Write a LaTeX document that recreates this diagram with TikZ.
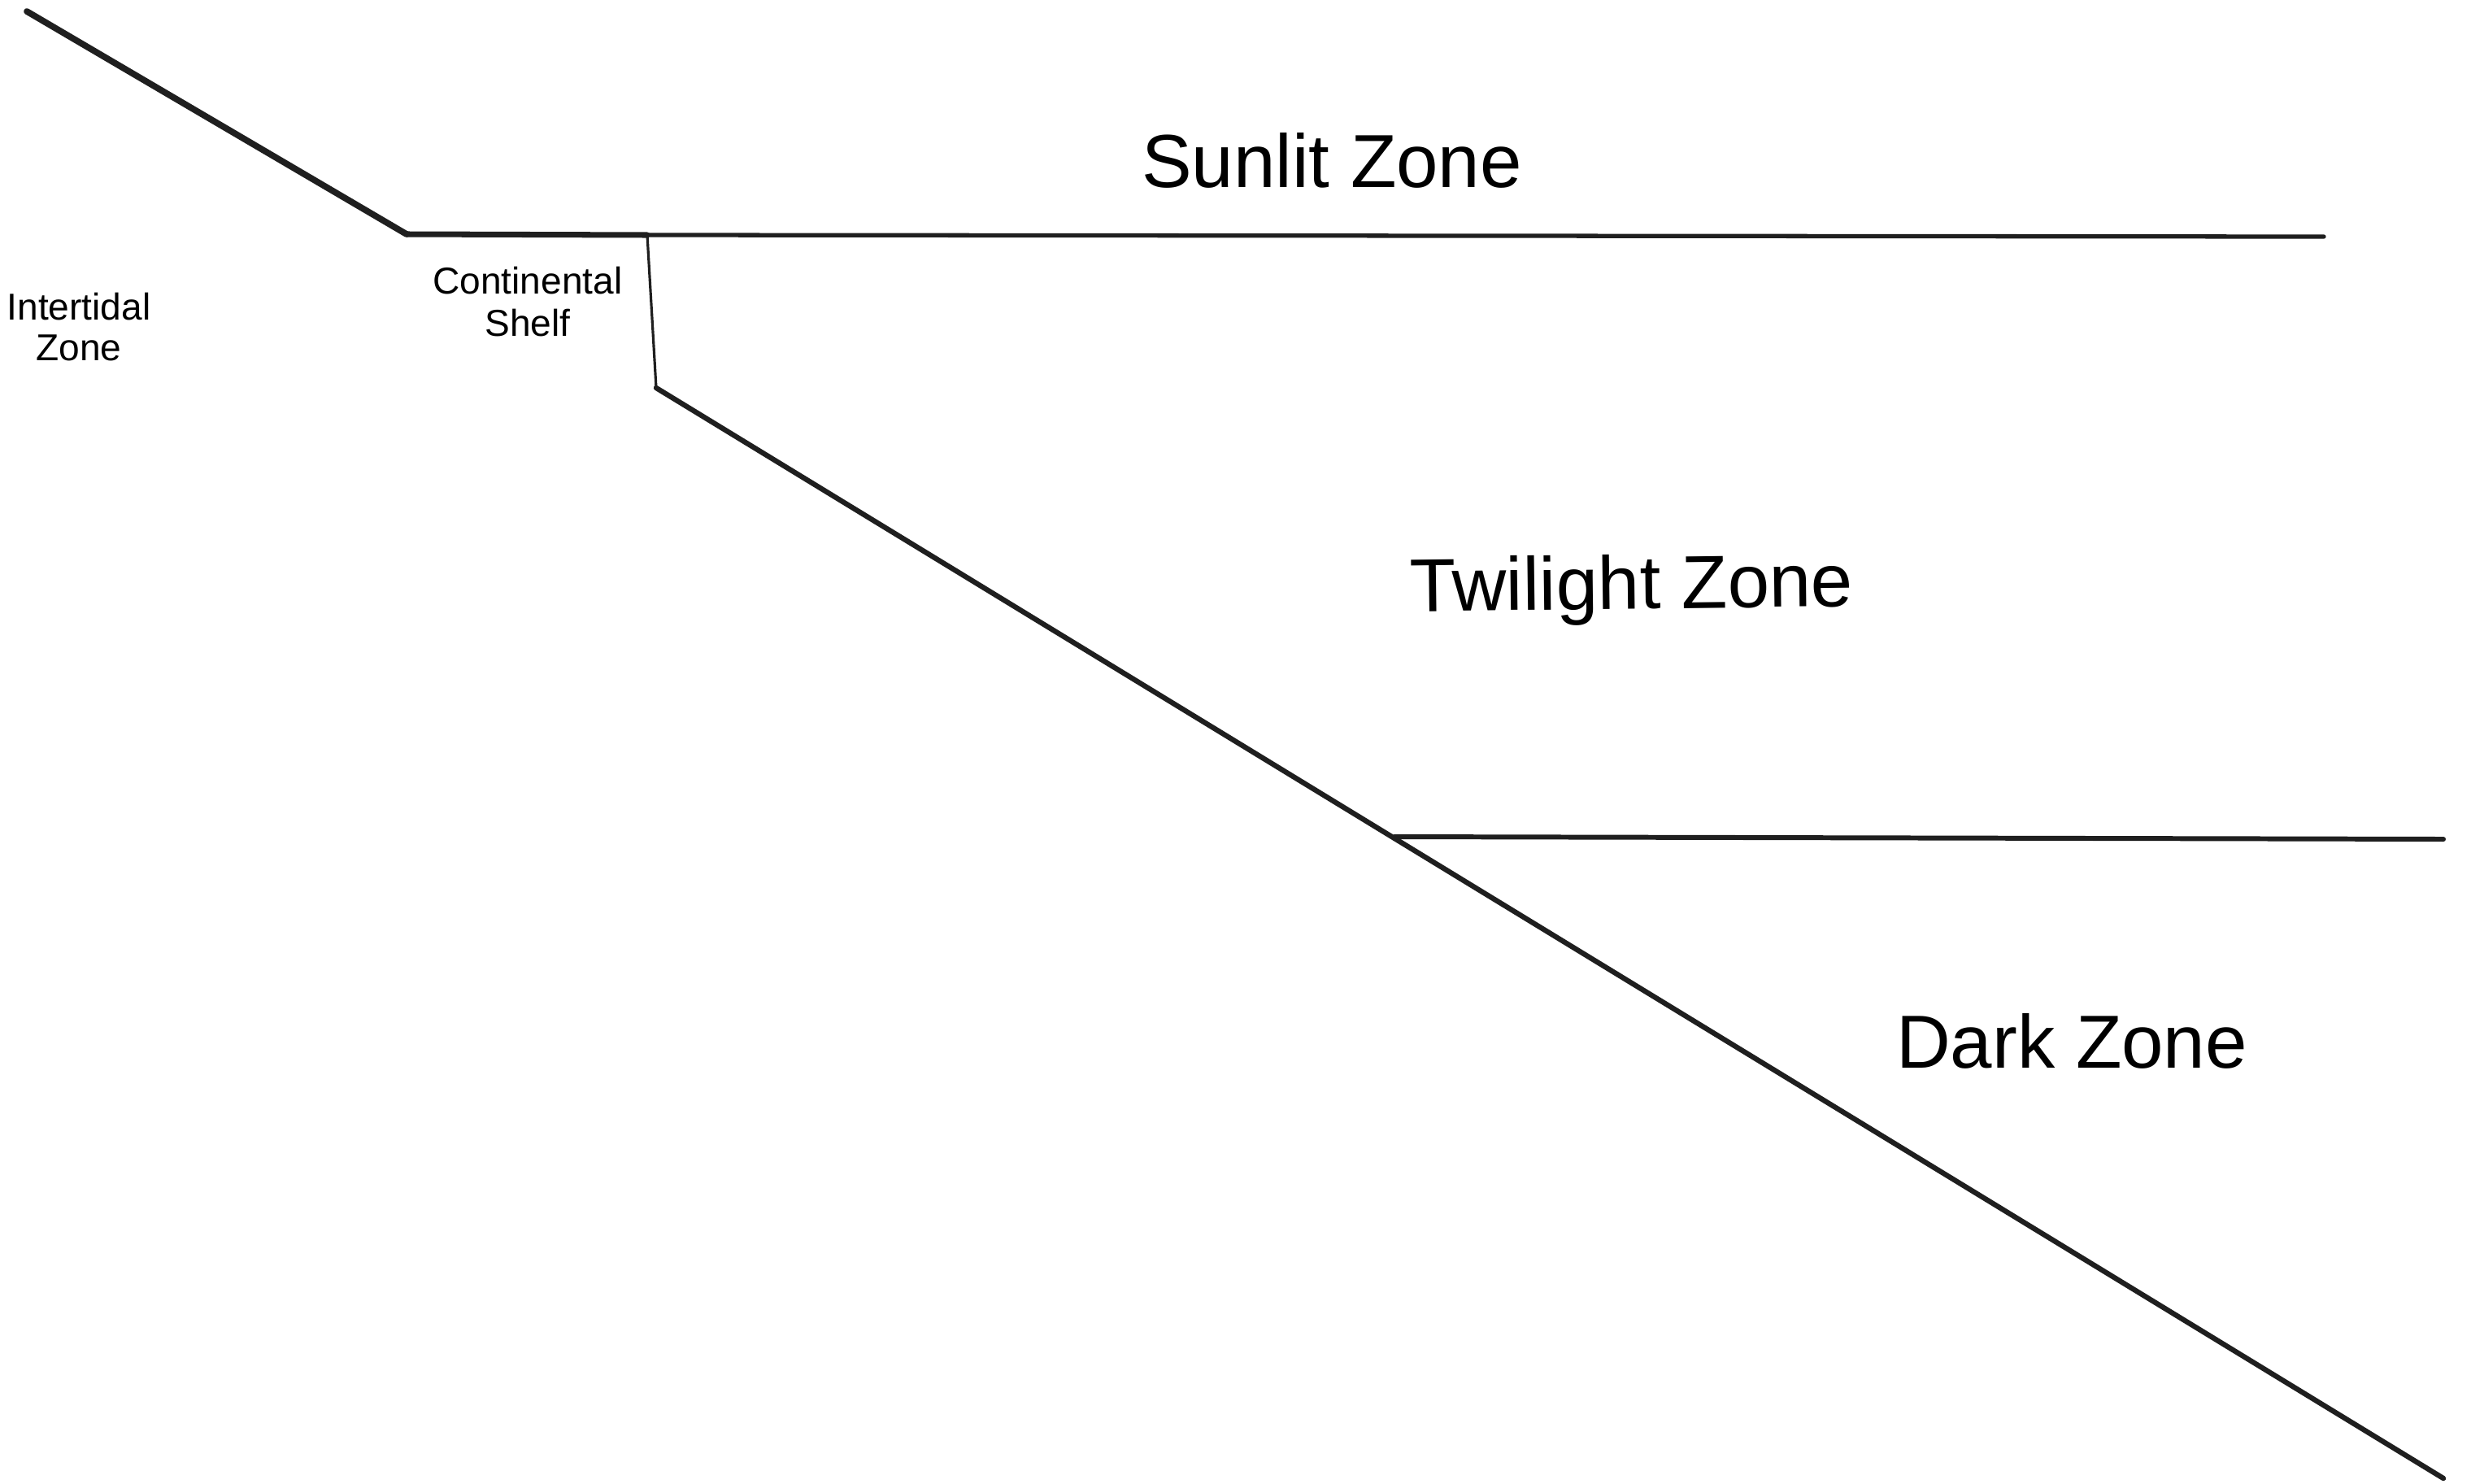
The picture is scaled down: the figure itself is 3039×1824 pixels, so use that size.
\documentclass[tikz,border=0pt]{standalone}
\usepackage{fontspec}
\setmainfont{Liberation Sans}
\begin{document}
\begin{tikzpicture}[x=0.01cm,y=-0.01cm,
  big/.style={font=\fontsize{26.3pt}{30pt}\selectfont, anchor=base, inner sep=0pt},
  small/.style={font=\fontsize{13.1pt}{13.1pt}\selectfont, anchor=base, inner sep=0pt, align=center},
  ink/.style={draw=black!88, line cap=round, line join=round}]
\useasboundingbox[fill=white] (0,0) rectangle (3039,1824);
% named points of the profile
\coordinate (shore) at (33,14);
\coordinate (shelfedge) at (500,288);
\coordinate (dropTop) at (796,289);
\coordinate (dropBot) at (807,477);
\coordinate (sunEnd) at (2858,291);
\coordinate (twStart) at (1715,1029);
\coordinate (twEnd) at (3005,1032);
\coordinate (deep) at (3005,1818);
% lines
\draw[ink, line width=2.2pt] (shore) -- (shelfedge);
\draw[ink, line width=2pt] (shelfedge) -- (dropTop);
\draw[ink, line width=1.5pt] (dropTop) -- (sunEnd);
\draw[ink, line width=0.9pt] (dropTop) -- (dropBot);
\draw[ink, line width=1.8pt] (dropBot) -- (deep);
\draw[ink, line width=1.7pt] (twStart) -- (twEnd);
% labels (base = baseline of last line)
\node[small] (inter) at (97,443) {Intertidal\\[1pt]Zone};
\node[small] (shelf) at (649,413) {Continental\\[1.5pt]Shelf};
\node[big] (sun) at (1638,230) {Sunlit Zone};
\node[big, rotate=0.7] (tw) at (2007,749) {Twilight Zone};
\node[big] (dark) at (2548,1313) {Dark Zone};
\end{tikzpicture}
\end{document}
